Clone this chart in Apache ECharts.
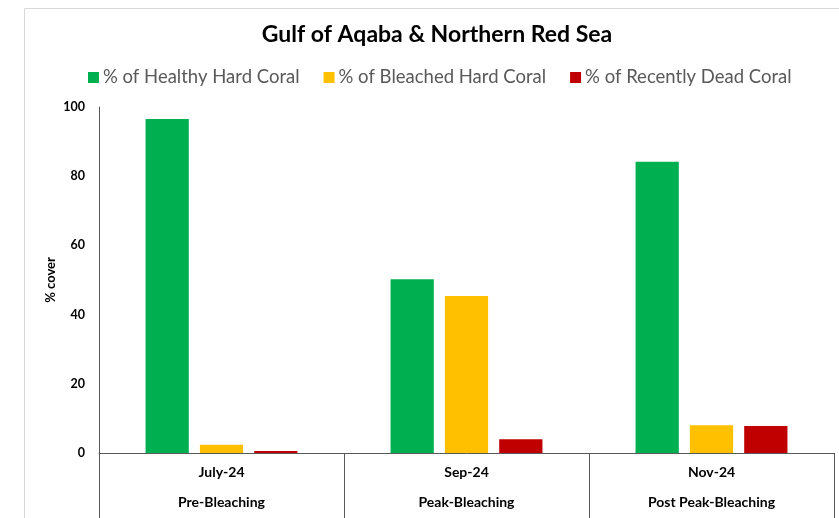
<!DOCTYPE html>
<html>
<head>
<meta charset="utf-8">
<script src="https://cdn.jsdelivr.net/npm/echarts@6/dist/echarts.min.js"></script>
<style>html,body{margin:0;padding:0;background:#fff}#c{width:839px;height:518px}</style>
</head>
<body>
<div id="c"></div>
<script>
const periods = ['July-24', 'Sep-24', 'Nov-24'];
const phases = ['Pre-Bleaching', 'Peak-Bleaching', 'Post Peak-Bleaching'];
const seriesNames = ['% of Healthy Hard Coral', '% of Bleached Hard Coral', '% of Recently Dead Coral'];
const healthy = [96.5, 50.2, 84.2];
const bleached = [2.4, 45.4, 8.0];
const dead = [0.6, 4.0, 7.8];
const yTicks = [0, 20, 40, 60, 80, 100];
const colors = ['#00b050', '#ffc000', '#c00000'];

const chart = echarts.init(document.getElementById('c'), null, {renderer: 'canvas'});
const values = [healthy, bleached, dead];
chart.setOption({
  animation: false,
  graphic: [{
    type: 'rect', left: 22, top: 6, shape: {width: 840, height: 540},
    style: {fill: 'none', stroke: '#d9d9d9', lineWidth: 1}, silent: true, z: -1
  }],
  title: {
    text: 'Gulf of Aqaba & Northern Red Sea',
    left: 432, textAlign: 'center', top: 18,
    textStyle: {fontFamily: 'Lato', fontSize: 23, fontWeight: 'bold', color: '#000'}
  },
  legend: {
    top: 63, left: 83,
    itemWidth: 11, itemHeight: 11, itemGap: 24,
    icon: 'rect',
    textStyle: {fontFamily: 'Lato', fontSize: 18.5, color: '#595959', padding: [0, 0, 0, -1]},
    data: seriesNames
  },
  grid: {left: 99, right: 5, top: 107, bottom: 65, containLabel: false},
  xAxis: {
    type: 'category',
    data: periods,
    axisLine: {lineStyle: {color: '#595959', width: 1}},
    axisTick: {show: true, interval: 0, length: 65, lineStyle: {color: '#595959'}},
    axisLabel: {
      interval: 0, margin: 4,
      formatter: (v, i) => '{a|' + v + '}\n{b|' + phases[i] + '}',
      rich: {
        a: {fontFamily: 'Lato', fontSize: 14, fontWeight: 'bold', color: '#000', lineHeight: 30},
        b: {fontFamily: 'Lato', fontSize: 14, fontWeight: 'bold', color: '#000', lineHeight: 30}
      }
    }
  },
  yAxis: {
    type: 'value', min: yTicks[0], max: yTicks[yTicks.length - 1], interval: 20,
    name: '% cover', nameLocation: 'middle', nameGap: 42, nameRotate: 90,
    nameMoveOverlap: false,
    nameTextStyle: {fontFamily: 'Lato', fontSize: 13, fontWeight: 'bold', color: '#000'},
    axisLine: {show: true, lineStyle: {color: '#595959'}},
    axisTick: {show: false},
    splitLine: {show: false},
    axisLabel: {fontFamily: 'Lato', fontSize: 12.5, fontWeight: 'bold', color: '#000', margin: 14}
  },
  series: seriesNames.map((n, k) => ({
    name: n, type: 'bar', data: values[k],
    barGap: '25.6%', barCategoryGap: '38%',
    itemStyle: {color: colors[k]}
  }))
});
</script>
</body>
</html>
